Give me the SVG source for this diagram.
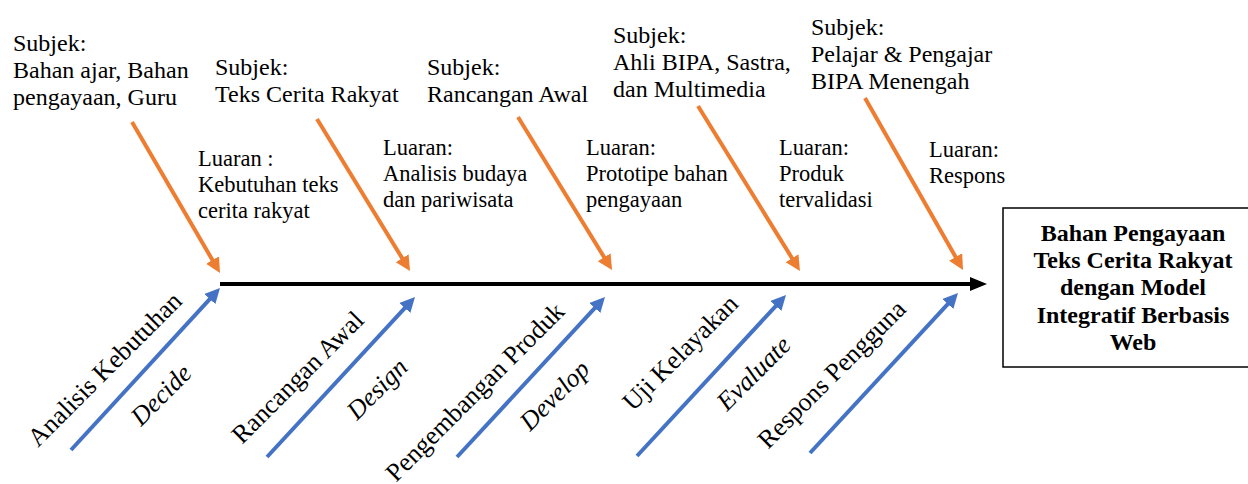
<svg xmlns="http://www.w3.org/2000/svg" width="1248" height="484" viewBox="0 0 1248 484">
<style>
text{font-family:'Liberation Serif','Times New Roman',serif;fill:#000}
.t{font-size:24px}
.l{font-size:22.5px}
.r{font-size:26px}
.i{font-size:26px;font-style:italic}
.b{font-size:24px;font-weight:bold;text-anchor:middle}
.o{stroke:#ED7D31;stroke-width:4;fill:none;marker-end:url(#ho)}
.u{stroke:#4472C4;stroke-width:4;fill:none;marker-end:url(#hb)}
.s{stroke:#000;stroke-width:4;fill:none;marker-end:url(#hk)}
</style>
<defs>
<marker id="ho" markerUnits="userSpaceOnUse" markerWidth="16" markerHeight="16" refX="5" refY="7.5" orient="auto" viewBox="0 0 16 15"><path d="M0,0 L15,7.5 L0,15 z" fill="#ED7D31"/></marker>
<marker id="hb" markerUnits="userSpaceOnUse" markerWidth="16" markerHeight="16" refX="5" refY="7.5" orient="auto" viewBox="0 0 16 15"><path d="M0,0 L15,7.5 L0,15 z" fill="#4472C4"/></marker>
<marker id="hk" markerUnits="userSpaceOnUse" markerWidth="18" markerHeight="16" refX="2" refY="7" orient="auto" viewBox="0 0 18 14"><path d="M0,0 L17,7 L0,14 z" fill="#000"/></marker>
</defs>
<g id="connectors">
<line class="s" x1="220" y1="284" x2="972" y2="284"/>
<line class="o" x1="132" y1="122" x2="215" y2="264.4"/>
<line class="o" x1="317" y1="119" x2="404.8" y2="262.5"/>
<line class="o" x1="518" y1="117" x2="606.8" y2="261.5"/>
<line class="o" x1="698" y1="106" x2="794.7" y2="262.5"/>
<line class="o" x1="865" y1="98" x2="958.1" y2="261.3"/>
<line class="u" x1="71" y1="450" x2="213.2" y2="295.4"/>
<line class="u" x1="267" y1="457" x2="408.2" y2="304.3"/>
<line class="u" x1="457" y1="457" x2="598.2" y2="304.3"/>
<line class="u" x1="637" y1="456" x2="779.2" y2="302.3"/>
<line class="u" x1="810" y1="453" x2="951.2" y2="300.3"/>
</g>
<g id="subjek1"><text class="t"><tspan x="13" y="51">Subjek:</tspan><tspan x="13" y="78">Bahan ajar, Bahan</tspan><tspan x="13" y="105">pengayaan, Guru</tspan></text></g>
<g id="subjek2"><text class="t"><tspan x="215" y="75">Subjek:</tspan><tspan x="215" y="102">Teks Cerita Rakyat</tspan></text></g>
<g id="subjek3"><text class="t"><tspan x="427" y="75">Subjek:</tspan><tspan x="427" y="102">Rancangan Awal</tspan></text></g>
<g id="subjek4"><text class="t"><tspan x="613" y="43">Subjek:</tspan><tspan x="613" y="70">Ahli BIPA, Sastra,</tspan><tspan x="613" y="97">dan Multimedia</tspan></text></g>
<g id="subjek5"><text class="t"><tspan x="811" y="35">Subjek:</tspan><tspan x="811" y="62">Pelajar &amp; Pengajar</tspan><tspan x="811" y="89">BIPA Menengah</tspan></text></g>
<g id="luaran1"><text class="l"><tspan x="198" y="166">Luaran :</tspan><tspan x="198" y="192">Kebutuhan teks</tspan><tspan x="198" y="218">cerita rakyat</tspan></text></g>
<g id="luaran2"><text class="l"><tspan x="383" y="155">Luaran:</tspan><tspan x="383" y="181">Analisis budaya</tspan><tspan x="383" y="207">dan pariwisata</tspan></text></g>
<g id="luaran3"><text class="l"><tspan x="586" y="155">Luaran:</tspan><tspan x="586" y="181">Prototipe bahan</tspan><tspan x="586" y="207">pengayaan</tspan></text></g>
<g id="luaran4"><text class="l"><tspan x="779" y="155">Luaran:</tspan><tspan x="779" y="181">Produk</tspan><tspan x="779" y="207">tervalidasi</tspan></text></g>
<g id="luaran5"><text class="l"><tspan x="929" y="157">Luaran:</tspan><tspan x="929" y="183">Respons</tspan></text></g>
<g id="tahap1"><text class="r" transform="translate(38,448) rotate(-45)">Analisis Kebutuhan</text><text class="i" transform="translate(141,427) rotate(-45)">Decide</text></g>
<g id="tahap2"><text class="r" transform="translate(242,445) rotate(-45)">Rancangan Awal</text><text class="i" transform="translate(357,421) rotate(-45)">Design</text></g>
<g id="tahap3"><text class="r" transform="translate(396,483) rotate(-45)">Pengembangan Produk</text><text class="i" transform="translate(530,432) rotate(-45)">Develop</text></g>
<g id="tahap4"><text class="r" transform="translate(633,412) rotate(-45)">Uji Kelayakan</text><text class="i" transform="translate(727,412) rotate(-45)">Evaluate</text></g>
<g id="tahap5"><text class="r" transform="translate(768,450) rotate(-45)">Respons Pengguna</text></g>
<g id="hasil">
<rect x="1003" y="208" width="262" height="159" fill="#fff" stroke="#000" stroke-width="1.5"/>
<text class="b"><tspan x="1133" y="241">Bahan Pengayaan</tspan><tspan x="1133" y="268">Teks Cerita Rakyat</tspan><tspan x="1133" y="295">dengan Model</tspan><tspan x="1133" y="323">Integratif Berbasis</tspan><tspan x="1133" y="350">Web</tspan></text>
</g>
</svg>
